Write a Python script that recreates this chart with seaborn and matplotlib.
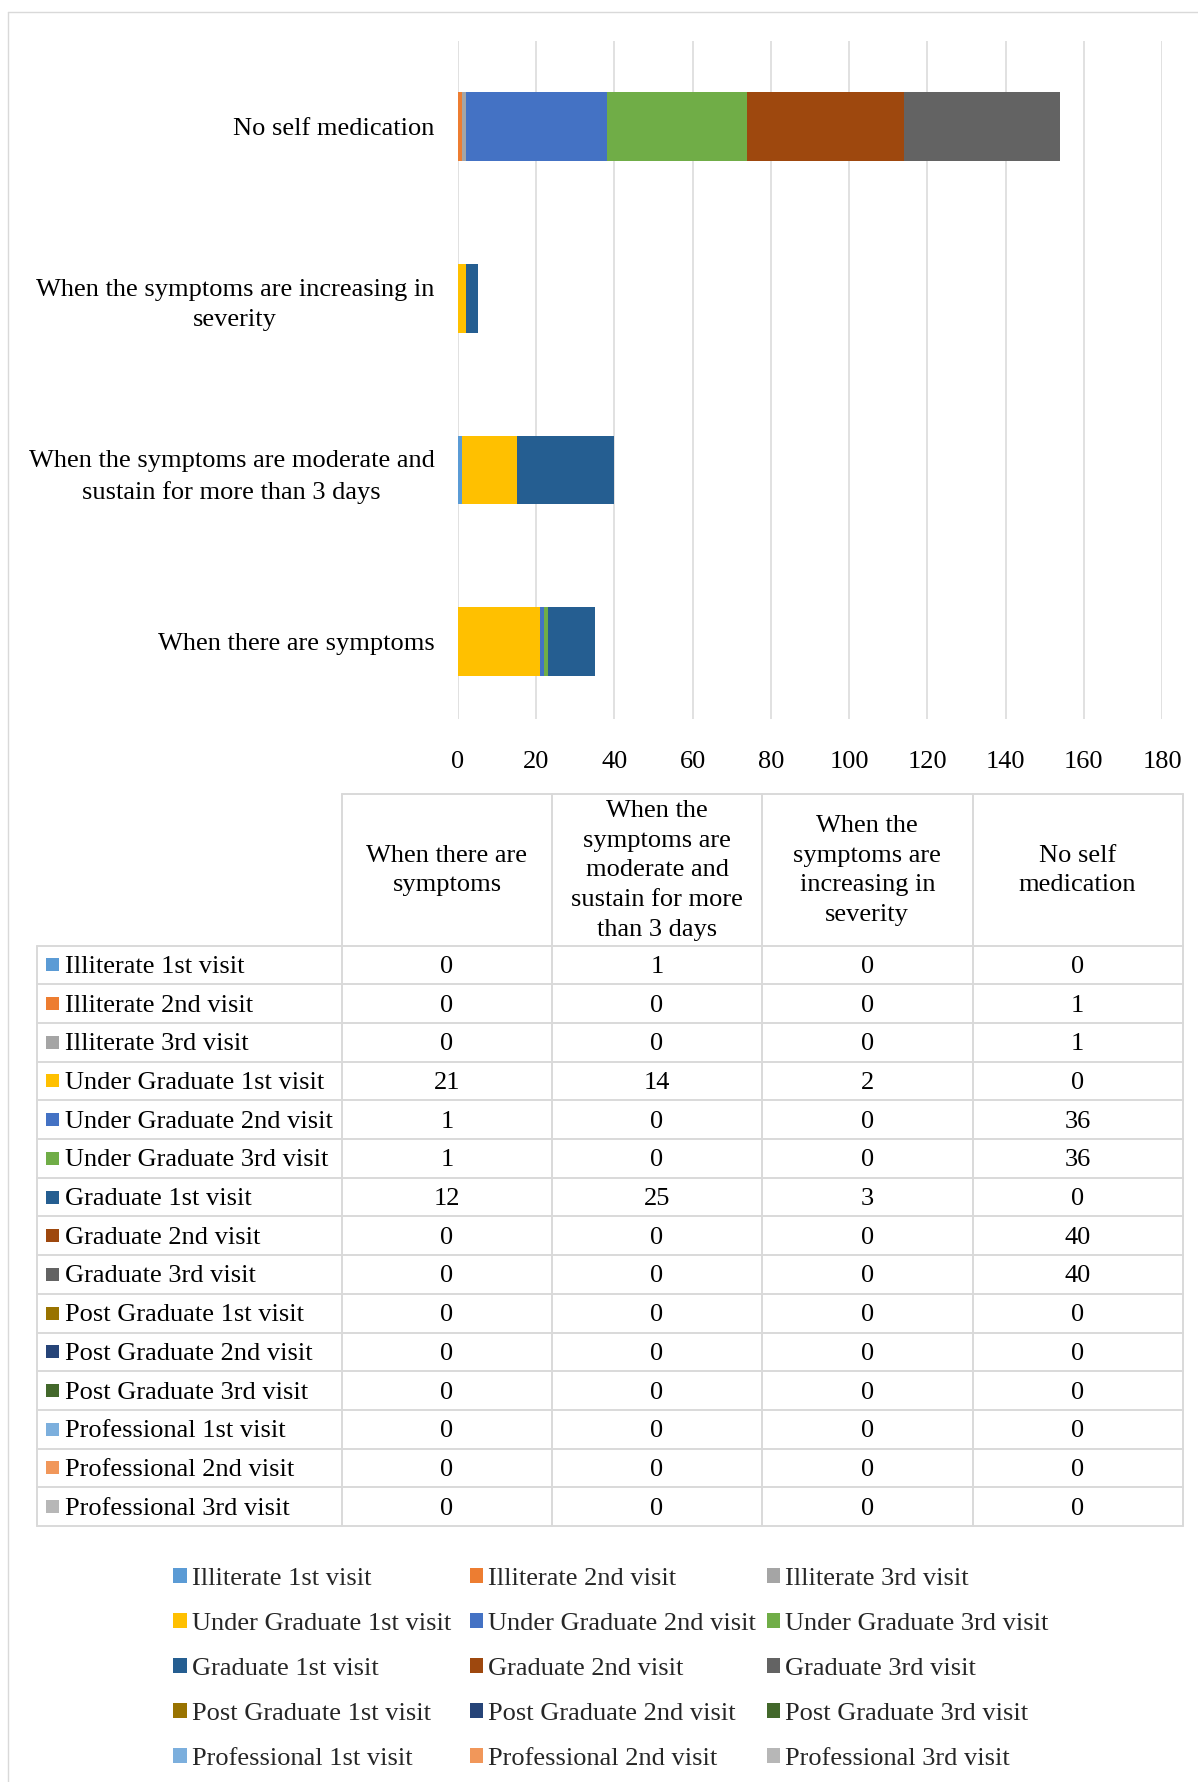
import matplotlib
matplotlib.use("Agg")
import matplotlib.pyplot as plt
import matplotlib.patches as mpatches
import matplotlib.transforms as mtransforms
import pandas as pd
import seaborn as sns

# ---- data -----------------------------------------------------------------
categories = [
    "When there are symptoms",
    "When the symptoms are moderate and sustain for more than 3 days",
    "When the symptoms are increasing in severity",
    "No self medication",
]
axis_labels = [
    "When there are symptoms",
    "When the symptoms are moderate and\nsustain for more than 3 days",
    "When the symptoms are increasing in\nseverity",
    "No self medication",
]
header_labels = [
    "When there are\nsymptoms",
    "When the\nsymptoms are\nmoderate and\nsustain for more\nthan 3 days",
    "When the\nsymptoms are\nincreasing in\nseverity",
    "No self\nmedication",
]
series_names = [
    "Illiterate 1st visit", "Illiterate 2nd visit", "Illiterate 3rd visit",
    "Under Graduate 1st visit", "Under Graduate 2nd visit", "Under Graduate 3rd visit",
    "Graduate 1st visit", "Graduate 2nd visit", "Graduate 3rd visit",
    "Post Graduate 1st visit", "Post Graduate 2nd visit", "Post Graduate 3rd visit",
    "Professional 1st visit", "Professional 2nd visit", "Professional 3rd visit",
]
illiterate_1st = [0, 1, 0, 0]
illiterate_2nd = [0, 0, 0, 1]
illiterate_3rd = [0, 0, 0, 1]
undergrad_1st = [21, 14, 2, 0]
undergrad_2nd = [1, 0, 0, 36]
undergrad_3rd = [1, 0, 0, 36]
graduate_1st = [12, 25, 3, 0]
graduate_2nd = [0, 0, 0, 40]
graduate_3rd = [0, 0, 0, 40]
postgrad_1st = [0, 0, 0, 0]
postgrad_2nd = [0, 0, 0, 0]
postgrad_3rd = [0, 0, 0, 0]
professional_1st = [0, 0, 0, 0]
professional_2nd = [0, 0, 0, 0]
professional_3rd = [0, 0, 0, 0]
series_values = [
    illiterate_1st, illiterate_2nd, illiterate_3rd,
    undergrad_1st, undergrad_2nd, undergrad_3rd,
    graduate_1st, graduate_2nd, graduate_3rd,
    postgrad_1st, postgrad_2nd, postgrad_3rd,
    professional_1st, professional_2nd, professional_3rd,
]
series_colors = [
    "#5B9BD5", "#ED7D31", "#A5A5A5",
    "#FFC000", "#4472C4", "#70AD47",
    "#255E91", "#9E480E", "#636363",
    "#997300", "#264478", "#43682B",
    "#7CAFDD", "#F1975A", "#B7B7B7",
]
x_ticks = [0, 20, 40, 60, 80, 100, 120, 140, 160, 180]

# ---- long table with running totals for stacking ---------------------------
rows = []
running = [0] * len(categories)
for name, vals in zip(series_names, series_values):
    for i, (cat, v) in enumerate(zip(categories, vals)):
        running[i] += v
        rows.append({"series": name, "category": cat, "value": v, "cumulative": running[i]})
df = pd.DataFrame(rows)

# ---- style ----------------------------------------------------------------
sns.set_theme(style="white")
plt.rcParams["font.family"] = ["Liberation Serif", "DejaVu Serif"]
FS = 19
GRID = "#D9D9D9"
LINESP = 1.47

W, H = 1198, 1782
fig = plt.figure(figsize=(W / 100, H / 100), dpi=100)
fig.patch.set_facecolor("white")


def fx(px):
    return px / W


def fy(py):
    return 1 - py / H


# ---- stacked bar chart ----------------------------------------------------
ax = fig.add_axes([fx(458), fy(719), fx(1162) - fx(458), fy(41) - fy(719)])
order = categories[::-1]
for name, color in zip(series_names[::-1], series_colors[::-1]):
    sub = df[df["series"] == name]
    sns.barplot(data=sub, x="cumulative", y="category", order=order,
                color=color, width=0.4, linewidth=0, errorbar=None,
                saturation=1, ax=ax)

ax.set_xlim(0, 180)
ax.set_ylim(3.45, -0.5)
ax.set_xticks(x_ticks)
ax.set_xticklabels([str(t) for t in x_ticks], fontsize=FS)
ax.set_yticks(range(len(order)))
ax.set_yticklabels(axis_labels[::-1], fontsize=FS)
lift = mtransforms.ScaledTranslation(0, 3.5 / 100, fig.dpi_scale_trans)
for lab in ax.get_yticklabels():
    lab.set_multialignment("center")
    lab.set_linespacing(LINESP)
    if "\n" in lab.get_text():
        lab.set_transform(lab.get_transform() + lift)
ax.tick_params(axis="x", length=0, pad=23, colors="black")
ax.tick_params(axis="y", length=0, pad=17, colors="black")
ax.set_xlabel("")
ax.set_ylabel("")
ax.grid(axis="x", color=GRID, linewidth=1.1)
ax.grid(axis="y", visible=False)
ax.set_axisbelow(True)
for s in ax.spines.values():
    s.set_visible(False)

# ---- data table and frame -------------------------------------------------
lay = fig.add_axes([0, 0, 1, 1])
lay.set_xlim(0, W)
lay.set_ylim(H, 0)
lay.axis("off")
lay.patch.set_visible(False)

# outer frame of the chart area
lay.plot([8, 8], [12, H], color=GRID, lw=1.0)
lay.plot([8, W], [12, 12], color=GRID, lw=1.0)

col_x = [37.4, 342, 552, 762, 972.5, 1182.6]
head_top, head_bot = 793.5, 945.5
row_h = (1526 - head_bot) / len(series_names)
tbl_bot = head_bot + row_h * len(series_names)
LW = 1.4

lay.plot([col_x[1], col_x[-1]], [head_top, head_top], color=GRID, lw=LW)
for x in col_x[1:]:
    lay.plot([x, x], [head_top, tbl_bot], color=GRID, lw=LW)
lay.plot([col_x[0], col_x[0]], [head_bot, tbl_bot], color=GRID, lw=LW)
for i in range(len(series_names) + 1):
    y = head_bot + i * row_h
    lay.plot([col_x[0], col_x[-1]], [y, y], color=GRID, lw=LW)

for j, hdr in enumerate(header_labels):
    cx = (col_x[j + 1] + col_x[j + 2]) / 2
    lay.text(cx, (head_top + head_bot) / 2 + 1, hdr, ha="center", va="center",
             multialignment="center", fontsize=FS, linespacing=LINESP, color="black")

for i, (name, vals, color) in enumerate(zip(series_names, series_values, series_colors)):
    cy = head_bot + (i + 0.5) * row_h
    lay.add_patch(mpatches.Rectangle((46, cy - 6.5), 13, 13, facecolor=color, edgecolor="none"))
    lay.text(65, cy + 2, name, ha="left", va="center", fontsize=FS, color="black")
    for j, v in enumerate(vals):
        cx = (col_x[j + 1] + col_x[j + 2]) / 2
        lay.text(cx, cy + 2, str(v), ha="center", va="center", fontsize=FS, color="black")

# ---- legend (three columns, filled row by row) ----------------------------
handles = [mpatches.Patch(facecolor=c, edgecolor="none") for c in series_colors]
legend_cols = [173.4, 469.8, 767]
for k, x0 in enumerate(legend_cols):
    idx = list(range(k, len(series_names), 3))
    leg = fig.legend([handles[i] for i in idx], [series_names[i] for i in idx],
                     loc="upper left", bbox_to_anchor=(fx(x0), fy(1568)),
                     bbox_transform=fig.transFigure, frameon=False,
                     fontsize=FS, handlelength=0.5, handleheight=0.5,
                     handletextpad=0.2, labelspacing=0.87, borderpad=0,
                     borderaxespad=0)

fig.savefig("out.png", dpi=100, facecolor="white")
